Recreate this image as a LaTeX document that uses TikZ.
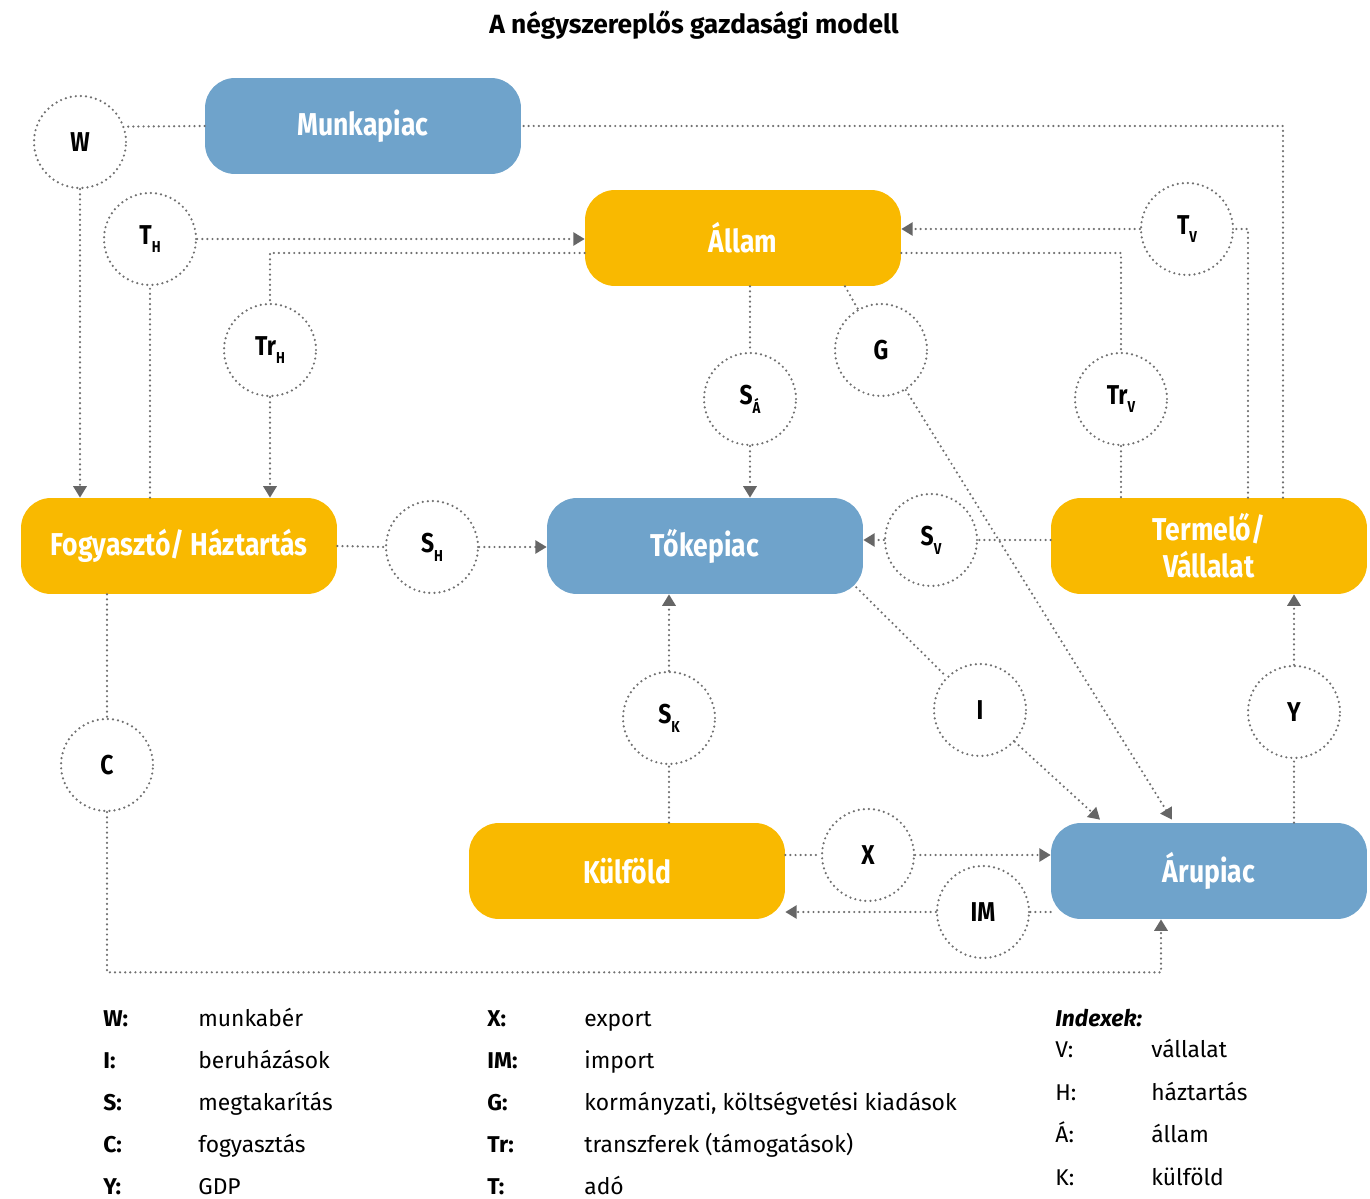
\documentclass[tikz,border=0pt]{standalone}
\usepackage{fontspec}
\setmainfont{Fira Sans}
\newfontfamily\szukfont{Fira Sans}[FakeStretch=0.84]
\usetikzlibrary{arrows.meta,calc}

\definecolor{piackek}{HTML}{6FA3CB}
\definecolor{szereplosarga}{HTML}{F9B900}
\definecolor{vonalszurke}{HTML}{707070}
\definecolor{nyilszurke}{HTML}{666666}

% also index a korokben
\newcommand{\alsoindex}[1]{\raisebox{-0.6ex}{\fontsize{9}{9}\selectfont #1}}

\begin{document}
\begin{tikzpicture}[x=0.02cm,y=-0.02cm,
  doboz/.style={rectangle,rounded corners=0.6cm,minimum width=6.32cm,
    minimum height=1.92cm,inner sep=0pt,align=center,text=white,
    font=\szukfont\bfseries\fontsize{18}{21}\selectfont},
  piac/.style={doboz,fill=piackek},
  szereplo/.style={doboz,fill=szereplosarga},
  aramlas/.style={draw=vonalszurke,line width=1.4pt,
    dash pattern=on 0pt off 2.9pt,line cap=round},
  kor/.style={circle,aramlas,minimum size=1.84cm,inner sep=0pt,
    font=\szukfont\bfseries\fontsize{15.5}{15.5}\selectfont},
  nyil/.style={aramlas,-{Triangle[width=7.5pt,length=6.5pt,color=nyilszurke]}},
  jel/.style={anchor=base west,inner sep=0pt,font=\bfseries\fontsize{13}{15}\selectfont},
  leiras/.style={anchor=base west,inner sep=0pt,font=\fontsize{13}{15}\selectfont}
]
\useasboundingbox (0,0) rectangle (1370,1199);

% Cim
\node[font=\bfseries\fontsize{15}{18}\selectfont] (cim) at (694,25)
  {A négyszereplős gazdasági modell};

% Szereplok es piacok
\node[piac] (munkapiac) at (363,126) {Munkapiac};
\node[szereplo] (allam) at (743,238) {Állam};
\node[szereplo] (haztartas) at (179,546) {Fogyasztó/ Háztartás};
\node[piac] (tokepiac) at (705,546) {Tőkepiac};
\node[szereplo] (vallalat) at (1209,546) {Termelő/\\Vállalat};
\node[szereplo] (kulfold) at (627,871) {Külföld};
\node[piac] (arupiac) at (1209,871) {Árupiac};

% Aramok
\node[kor] (w) at (80,142) {W};
\node[kor] (th) at (150,239) {T\alsoindex{H}};
\node[kor] (trh) at (270,350) {Tr\alsoindex{H}};
\node[kor] (sa) at (750,399) {S\alsoindex{Á}};
\node[kor] (g) at (881,350) {G};
\node[kor] (trv) at (1121,399) {Tr\alsoindex{V}};
\node[kor] (tv) at (1187,229) {T\alsoindex{V}};
\node[kor] (sh) at (432,547) {S\alsoindex{H}};
\node[kor] (sv) at (931,540) {S\alsoindex{V}};
\node[kor] (sk) at (669,718) {S\alsoindex{K}};
\node[kor] (i) at (980,710) {I};
\node[kor] (y) at (1294,712) {Y};
\node[kor] (c) at (107,765) {C};
\node[kor] (x) at (868,855) {X};
\node[kor] (im) at (983,912) {IM};

% Munkaber
\draw[aramlas] ($(vallalat.north)+(74,0)$) |- (munkapiac.east);
\draw[aramlas] (munkapiac.west) -- (w.19);
\draw[nyil] (w.south) -- (w.south |- haztartas.north);

% Adok es transzferek
\draw[aramlas] (haztartas.north -| th.south) -- (th.south);
\draw[nyil] (th.east) -- (th.east -| allam.west);
\draw[aramlas] ($(allam.west)+(0,15)$) -| (trh.north);
\draw[nyil] (trh.south) -- (trh.south |- haztartas.north);
\draw[aramlas] ($(vallalat.north)+(39,0)$) |- (tv.east);
\draw[nyil] (tv.west) -- (tv.west -| allam.east);
\draw[aramlas] ($(allam.east)+(0,15)$) -| (trv.north);
\draw[aramlas] (trv.south) -- (trv.south |- vallalat.north);

% Megtakaritasok
\draw[aramlas] (allam.south -| sa.north) -- (sa.north);
\draw[nyil] (sa.south) -- (sa.south |- tokepiac.north);
\draw[aramlas] (haztartas.east) -- (sh.west);
\draw[nyil] (sh.east) -- (sh.east -| tokepiac.west);
\draw[aramlas] (vallalat.west |- sv.east) -- (sv.east);
\draw[nyil] (sv.west) -- (sv.west -| tokepiac.east);
\draw[aramlas] (kulfold.north -| sk.south) -- (sk.south);
\draw[nyil] (sk.north) -- (sk.north |- tokepiac.south);

% Arupiac fele
\draw[aramlas] ($(allam.south)+(102,0)$) -- (g);
\draw[nyil] (g) -- ($(arupiac.north)+(-37,-3)$);
\draw[aramlas] ($(tokepiac.south east)+(-7,-7)$) -- (i);
\draw[nyil] (i) -- ($(arupiac.north)+(-109,-3)$);
\draw[aramlas] (arupiac.north -| y.south) -- (y.south);
\draw[nyil] (y.north) -- (y.north |- vallalat.south);
\draw[aramlas] (haztartas.south -| c.north) -- (c.north);
\draw[nyil] (c.south) |- ($(arupiac.south)+(-48,53)$) -- ($(arupiac.south)+(-48,0)$);

% Kulkereskedelem
\draw[aramlas] (kulfold.east |- x.west) -- (x.west);
\draw[nyil] (x.east) -- (x.east -| arupiac.west);
\draw[aramlas] (arupiac.west |- im.east) -- (im.east);
\draw[nyil] (im.west) -- (im.west -| kulfold.east);

% Jelmagyarazat
\foreach \jelszo/\szoveg [count=\n] in {W:/munkabér, I:/beruházások,
    S:/megtakarítás, C:/fogyasztás, Y:/GDP} {
  \node[jel] (jel-a\n) at (103,984+42*\n) {\jelszo};
  \node[leiras] (leiras-a\n) at (198,984+42*\n) {\szoveg};
}
\foreach \jelszo/\szoveg [count=\n] in {X:/export, IM:/import,
    G:/{kormányzati, költségvetési kiadások}, Tr:/transzferek (támogatások),
    T:/adó} {
  \node[jel] (jel-b\n) at (487,984+42*\n) {\jelszo};
  \node[leiras] (leiras-b\n) at (584,984+42*\n) {\szoveg};
}
\node[jel,font=\bfseries\itshape\fontsize{13}{15}\selectfont] (indexek) at (1055,1026) {Indexek:};
\foreach \jelszo/\szoveg [count=\n] in {V:/vállalat, H:/háztartás,
    Á:/állam, K:/külföld} {
  \node[leiras] (jel-c\n) at (1055,1015+42.5*\n) {\jelszo};
  \node[leiras] (leiras-c\n) at (1151,1015+42.5*\n) {\szoveg};
}
\end{tikzpicture}
\end{document}
